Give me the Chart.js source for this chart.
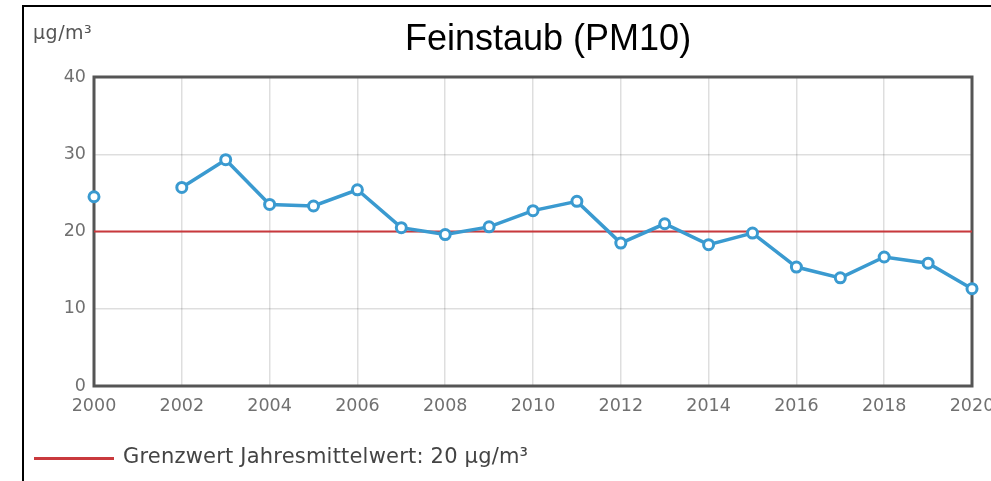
<!DOCTYPE html>
<html>
<head>
<meta charset="utf-8">
<script src="https://cdn.jsdelivr.net/npm/chart.js@4/dist/chart.umd.min.js"></script>
<style>
  html, body { margin: 0; padding: 0; background: #fff; }
  #wrap { position: relative; width: 991px; height: 481px; overflow: hidden; }
  #frame { position: absolute; left: 22px; top: 5px; width: 1100px; height: 600px;
           border-top: 2px solid #000; border-left: 2px solid #000; }
  #chart { position: absolute; left: 0; top: 0; }
  .title { position: absolute; left: 405px; top: 20px; white-space: nowrap;
           font: 36px/36px "Liberation Sans", Arial, sans-serif; color: #000; }
  .unit { position: absolute; left: 33px; top: 23px; white-space: nowrap; letter-spacing: 0.5px;
          font: 19px/19px "DejaVu Sans", Verdana, sans-serif; color: #555; }
  .legend-line { position: absolute; left: 34px; top: 457px; width: 80px; height: 3px; background: #c9393d; }
  .legend-text { position: absolute; left: 123px; top: 446px; white-space: nowrap; letter-spacing: 0.2px;
                 font: 21px/21px "DejaVu Sans", Verdana, sans-serif; color: #444; }
</style>
</head>
<body>
<div id="wrap">
  <div id="frame"></div>
  <canvas id="chart" width="991" height="481"></canvas>
  <div class="title">Feinstaub (PM10)</div>
  <div class="unit">µg/m³</div>
  <div class="legend-line"></div>
  <div class="legend-text">Grenzwert Jahresmittelwert: 20 µg/m³</div>
</div>
<script>
// Jahresmittelwerte PM10 (µg/m³), 2001 ohne Messwert
const years = [2000, 2001, 2002, 2003, 2004, 2005, 2006, 2007, 2008, 2009, 2010,
               2011, 2012, 2013, 2014, 2015, 2016, 2017, 2018, 2019, 2020];
const pm10 = [24.5, null, 25.7, 29.3, 23.5, 23.3, 25.4, 20.5, 19.6, 20.6, 22.7,
              23.9, 18.5, 21.0, 18.3, 19.8, 15.4, 14.0, 16.7, 15.9, 12.6];

// Grenzwert
const limitYears = [2000, 2020];
const limitValues = [20, 20];

// Achsenbeschriftung
const xTicks = [2000, 2002, 2004, 2006, 2008, 2010, 2012, 2014, 2016, 2018, 2020];
const yTicks = [0, 10, 20, 30, 40];

const tickFont = { family: '"DejaVu Sans", Verdana, sans-serif', size: 17.5 };
const gridColor = 'rgba(0,0,0,0.13)';

// Rahmen um den Plotbereich
const plotFrame = {
  id: 'plotFrame',
  beforeDatasetsDraw(chart) {
    const { ctx, chartArea: a } = chart;
    ctx.save();
    ctx.strokeStyle = '#555';
    ctx.lineWidth = 3;
    ctx.strokeRect(a.left, a.top, a.right - a.left, a.bottom - a.top);
    ctx.restore();
  }
};

const ctx = document.getElementById('chart').getContext('2d');
new Chart(ctx, {
  type: 'line',
  data: {
    datasets: [{
      label: 'PM10',
      data: years.map((y, i) => ({ x: y, y: pm10[i] })),
      borderColor: '#3a9ad0',
      borderWidth: 3.5,
      pointRadius: 5,
      pointBorderWidth: 3,
      pointBackgroundColor: '#fff',
      pointBorderColor: '#3a9ad0',
      spanGaps: false,
      tension: 0,
      clip: false
    }, {
      label: 'Grenzwert Jahresmittelwert: 20 µg/m³',
      data: limitYears.map((y, i) => ({ x: y, y: limitValues[i] })),
      borderColor: '#c9393d',
      borderWidth: 2,
      pointRadius: 0,
      tension: 0
    }]
  },
  options: {
    responsive: false,
    animation: false,
    devicePixelRatio: 1,
    layout: { padding: { top: 77, right: 19, bottom: 65, left: 0 } },
    scales: {
      x: {
        type: 'linear',
        min: 2000,
        max: 2020,
        afterBuildTicks: s => { s.ticks = xTicks.map(v => ({ value: v })); },
        afterFit: s => { s.height = 30; s.paddingLeft = 0; s.paddingRight = 0; },
        ticks: { callback: v => String(v), padding: 10, maxRotation: 0, autoSkip: false,
                 color: '#707070', font: tickFont },
        grid: { color: gridColor, lineWidth: 1.5, drawTicks: false },
        border: { display: false }
      },
      y: {
        min: 0,
        max: 40,
        afterBuildTicks: s => { s.ticks = yTicks.map(v => ({ value: v })); },
        afterFit: s => { s.width = 94; s.paddingTop = 0; s.paddingBottom = 0; },
        ticks: { padding: 8, color: '#707070', font: tickFont },
        grid: { color: gridColor, lineWidth: 1.5, drawTicks: false },
        border: { display: false }
      }
    },
    plugins: {
      legend: { display: false },
      tooltip: { enabled: false },
      title: { display: false }
    }
  },
  plugins: [plotFrame]
});
</script>
</body>
</html>
